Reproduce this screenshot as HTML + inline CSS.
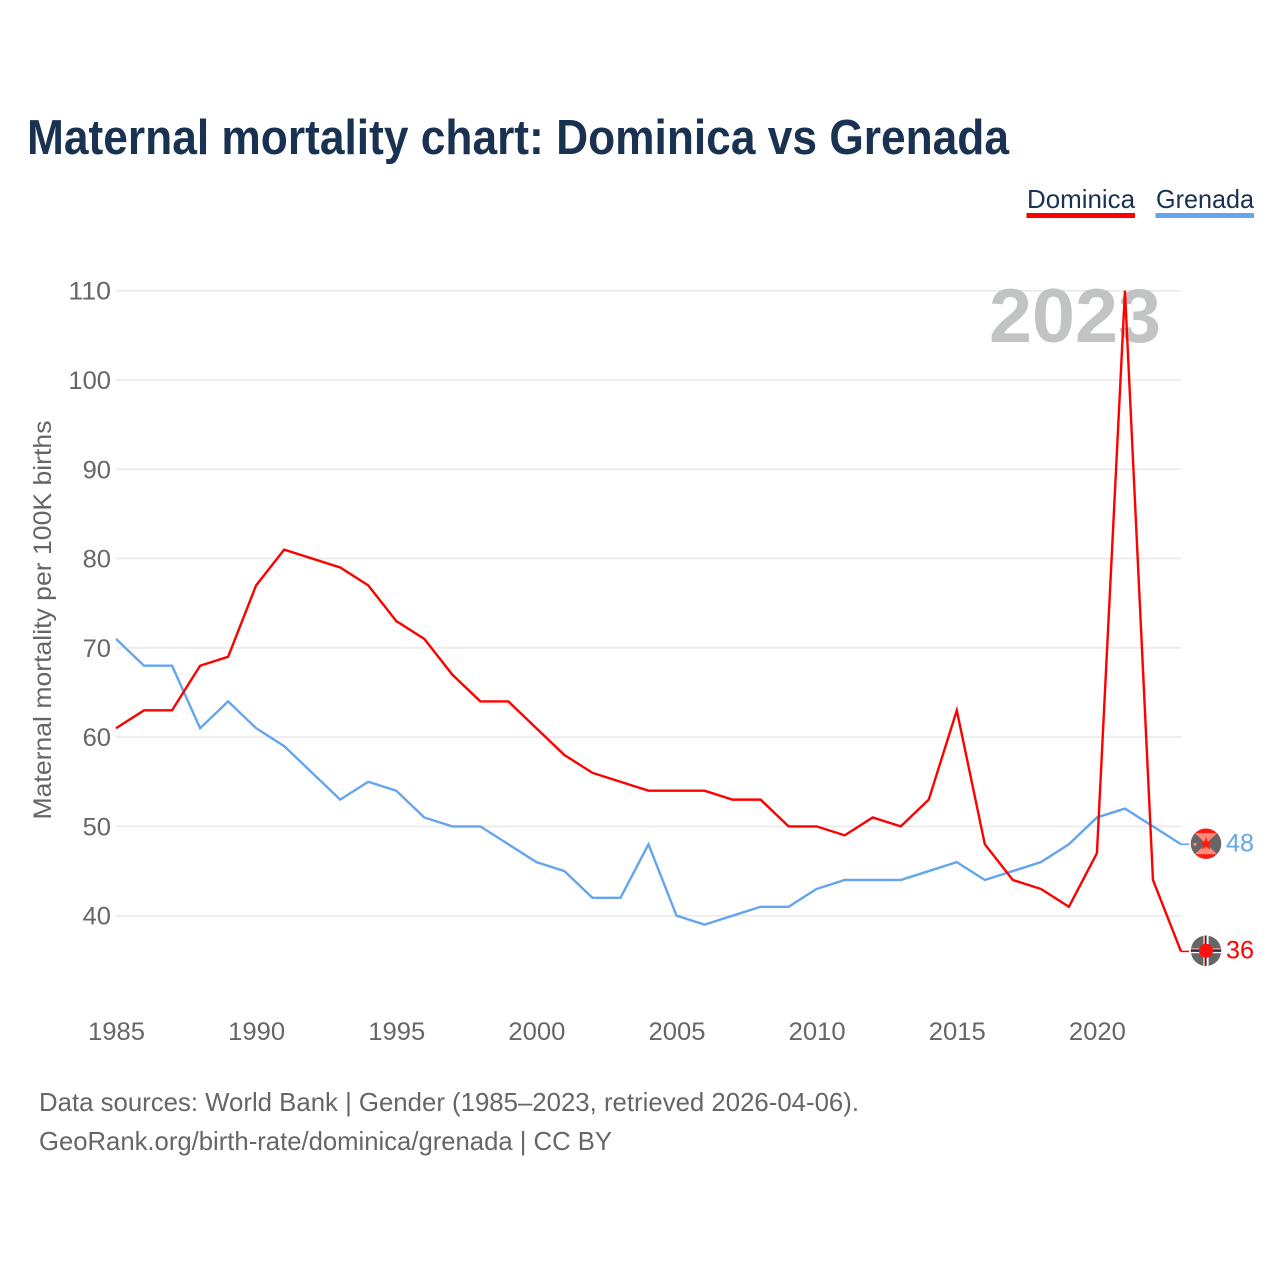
<!DOCTYPE html>
<html lang="en">
<head>
<meta charset="utf-8">
<title>Maternal mortality chart: Dominica vs Grenada</title>
<style>
html,body{margin:0;padding:0;background:#fff;}
svg{display:block;font-family:"Liberation Sans",sans-serif;}
</style>
</head>
<body>
<svg id="chart" xmlns="http://www.w3.org/2000/svg" width="1280" height="1280" viewBox="0 0 1280 1280">
  <defs>
    <clipPath id="clip-flag"><circle cx="0" cy="0" r="15.2"/></clipPath>
  </defs>
  <rect x="0" y="0" width="1280" height="1280" fill="#ffffff"/>
  <text x="27" y="154" font-size="49" font-weight="700" fill="#1a3251" textLength="982" lengthAdjust="spacingAndGlyphs">Maternal mortality chart: Dominica vs Grenada</text>

  <g>
    <g>
      <text x="1027" y="208" font-size="26" fill="#1a3251" textLength="108" lengthAdjust="spacingAndGlyphs">Dominica</text>
      <rect x="1026.5" y="213" width="108.5" height="5" fill="#ff0000"/>
    </g>
    <g>
      <text x="1156" y="208" font-size="26" fill="#1a3251" textLength="98" lengthAdjust="spacingAndGlyphs">Grenada</text>
      <rect x="1155.5" y="213" width="98.5" height="5" fill="#63a5ee"/>
    </g>
  </g>

  <g id="grid"></g>
  <g id="y-ticks"></g>
  <g id="x-ticks"></g>

  <text transform="translate(51,620) rotate(-90)" text-anchor="middle" font-size="25" fill="#666666" textLength="399" lengthAdjust="spacingAndGlyphs">Maternal mortality per 100K births</text>

  <text x="989" y="342" font-size="76" font-weight="700" fill="#c1c3c5" textLength="172" lengthAdjust="spacingAndGlyphs">2023</text>

  <g id="series"></g>
  <g id="end-markers"></g>

  <text x="39" y="1111" font-size="26" fill="#666666" textLength="820" lengthAdjust="spacingAndGlyphs">Data sources: World Bank | Gender (1985–2023, retrieved 2026-04-06).</text>
  <text x="39" y="1150" font-size="26" fill="#666666" textLength="573" lengthAdjust="spacingAndGlyphs">GeoRank.org/birth-rate/dominica/grenada | CC BY</text>
</svg>

<script>
const years = [1985,1986,1987,1988,1989,1990,1991,1992,1993,1994,1995,1996,1997,1998,1999,2000,2001,2002,2003,2004,2005,2006,2007,2008,2009,2010,2011,2012,2013,2014,2015,2016,2017,2018,2019,2020,2021,2022,2023];
const dominicaValues = [61,63,63,68,69,77,81,80,79,77,73,71,67,64,64,61,58,56,55,54,54,54,53,53,50,50,49,51,50,53,63,48,44,43,41,47,110,44,36];
const grenadaValues = [71,68,68,61,64,61,59,56,53,55,54,51,50,50,48,46,45,42,42,48,40,39,40,41,41,43,44,44,44,45,46,44,45,46,48,51,52,50,48];
const yTickValues = [40,50,60,70,80,90,100,110];
const xTickValues = [1985,1990,1995,2000,2005,2010,2015,2020];

const NS = 'http://www.w3.org/2000/svg';
const X0 = 116, X1 = 1181, Y40 = 915.7, Y110 = 290.7;

function xScale(year) {
  return X0 + (year - years[0]) * (X1 - X0) / (years[years.length - 1] - years[0]);
}
function yScale(value) {
  return Y40 + (value - 40) * (Y110 - Y40) / 70;
}
function make(tag, attrs, parent, text) {
  const el = document.createElementNS(NS, tag);
  for (const k in attrs) el.setAttribute(k, attrs[k]);
  if (text !== undefined) el.textContent = text;
  parent.appendChild(el);
  return el;
}

const gridGroup = document.getElementById('grid');
const yTickGroup = document.getElementById('y-ticks');
const xTickGroup = document.getElementById('x-ticks');
const seriesGroup = document.getElementById('series');
const markerGroup = document.getElementById('end-markers');

yTickValues.forEach(function (v) {
  const line = make('line', {x1: X0, x2: X1, y1: yScale(v), y2: yScale(v), stroke: '#e8e8ea', 'stroke-width': 1.5}, gridGroup);
  
  
  const label = make('text', {
    x: 111, y: yScale(v) + 9, 'text-anchor': 'end', 'font-size': 25, fill: '#666666',
    textLength: String(v).length * 14.2, lengthAdjust: 'spacingAndGlyphs'
  }, yTickGroup, String(v));
  
  
});

xTickValues.forEach(function (y) {
  const label = make('text', {
    x: xScale(y) + 0.5, y: 1040, 'text-anchor': 'middle', 'font-size': 25, fill: '#666666',
    textLength: 57, lengthAdjust: 'spacingAndGlyphs'
  }, xTickGroup, String(y));
  
  
});

function linePath(values) {
  return values.map(function (v, i) {
    return (i ? 'L' : 'M') + xScale(years[i]).toFixed(2) + ' ' + yScale(v).toFixed(2);
  }).join(' ');
}

const grenadaLine = make('path', {d: linePath(grenadaValues), fill: 'none', stroke: '#63a5ee', 'stroke-width': 2.4, 'stroke-linejoin': 'miter'}, seriesGroup);



const dominicaLine = make('path', {d: linePath(dominicaValues), fill: 'none', stroke: '#ff0000', 'stroke-width': 2.4, 'stroke-linejoin': 'miter'}, seriesGroup);



function endStub(value, color) {
  return make('line', {x1: X1, x2: X1 + 8, y1: yScale(value), y2: yScale(value), stroke: color, 'stroke-width': 1.5}, markerGroup);
}
function flagGroup(value) {
  return make('g', {transform: 'translate(1206,' + (yScale(value) - 0.6).toFixed(2) + ')', 'clip-path': 'url(#clip-flag)'}, markerGroup);
}
function valueLabel(value, color) {
  return make('text', {
    x: 1226, y: yScale(value) + 7.2, 'font-size': 25, fill: color,
    textLength: 28, lengthAdjust: 'spacingAndGlyphs'
  }, markerGroup, String(value));
}

const lastGrenada = grenadaValues[grenadaValues.length - 1];
const lastDominica = dominicaValues[dominicaValues.length - 1];

const stubGrenada = endStub(lastGrenada, '#63a5ee');



const flagG = flagGroup(lastGrenada);


make('rect', {x: -16, y: -16, width: 32, height: 32, fill: '#ff1a12'}, flagG);
make('rect', {x: -16, y: -10.5, width: 32, height: 21, fill: '#666666'}, flagG);
make('polygon', {points: '-11,-10.5 11,-10.5 0,0', fill: '#ff8a78'}, flagG);
make('polygon', {points: '-11,10.5 11,10.5 0,0', fill: '#ff8a78'}, flagG);
make('polygon', {points: '0,-6.5 1.8,-2 6.5,-2 2.8,1 4.2,5.8 0,3 -4.2,5.8 -2.8,1 -6.5,-2 -1.8,-2', fill: '#ff1a12'}, flagG);
make('circle', {cx: -11, cy: 0.5, r: 1.6, fill: '#ff8a78'}, flagG);

const labelGrenada = valueLabel(lastGrenada, '#63a5ee');



const stubDominica = endStub(lastDominica, '#ff0000');



const flagD = flagGroup(lastDominica);


make('rect', {x: -16, y: -16, width: 32, height: 32, fill: '#666666'}, flagD);
make('rect', {x: -16, y: -2.6, width: 32, height: 1.3, fill: '#ff9a88'}, flagD);
make('rect', {x: -16, y: -1.3, width: 32, height: 2.4, fill: '#1a3251'}, flagD);
make('rect', {x: -16, y: 1.1, width: 32, height: 1.3, fill: '#ffffff'}, flagD);
make('rect', {x: -3, y: -16, width: 2, height: 32, fill: '#ff9a88'}, flagD);
make('rect', {x: -1, y: -16, width: 1.6, height: 32, fill: '#1a3251'}, flagD);
make('rect', {x: 0.6, y: -16, width: 2, height: 32, fill: '#ffffff'}, flagD);
make('circle', {cx: 0, cy: 0, r: 7, fill: '#ff1010'}, flagD);

const labelDominica = valueLabel(lastDominica, '#ff0000');


</script>
</body>
</html>
